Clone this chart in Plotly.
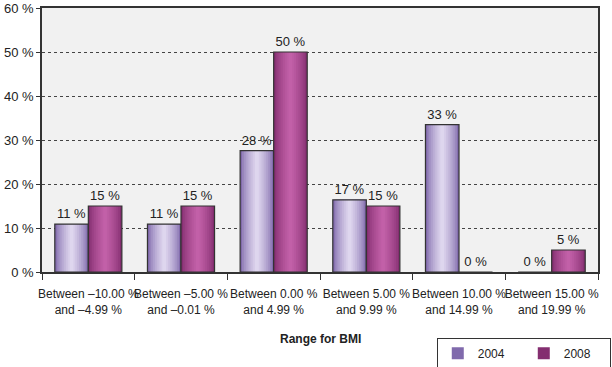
import plotly.graph_objects as go

categories = [
    "Between –10.00 %<br>and –4.99 %",
    "Between –5.00 %<br>and –0.01 %",
    "Between 0.00 %<br>and 4.99 %",
    "Between 5.00 %<br>and 9.99 %",
    "Between 10.00 %<br>and 14.99 %",
    "Between 15.00 %<br>and 19.99 %",
]
values_2004 = [10.9, 10.9, 27.6, 16.4, 33.5, 0]
values_2008 = [15, 15, 50, 15, 0, 5]
labels_2004 = ["11 %", "11 %", "28 %", "17 %", "33 %", "0 %"]
labels_2008 = ["15 %", "15 %", "50 %", "15 %", "0 %", "5 %"]
y_ticks = [0, 10, 20, 30, 40, 50, 60]
x_title = "Range for BMI"

series = [
    ("2004", values_2004, labels_2004, (128, 106, 172), (222, 214, 238), -1),
    ("2008", values_2008, labels_2008, (132, 46, 112), (194, 96, 168), 0),
]

BAR_W = 0.362
N_LAYERS = 9
FONT = "Liberation Sans, Arial, sans-serif"

fig = go.Figure()


def mix(c1, c2, t):
    return "rgb(%d,%d,%d)" % tuple(round(a + (b - a) * t) for a, b in zip(c1, c2))


for name, vals, labels, edge, mid, side in series:
    base_off = side * BAR_W
    for k in range(N_LAYERS):
        w = BAR_W * (1 - k / N_LAYERS)
        fig.add_trace(go.Bar(
            x=categories, y=vals, name=name,
            width=w, offset=base_off + (BAR_W - w) / 2,
            marker=dict(color=mix(edge, mid, (k / (N_LAYERS - 1)) ** 0.7),
                        line=dict(width=0)),
            showlegend=(k == 0), legendgroup=name, hoverinfo="skip",
        ))
    fig.add_trace(go.Bar(
        x=categories, y=vals, name=name,
        width=BAR_W, offset=base_off,
        marker=dict(color="rgba(0,0,0,0)", line=dict(color="#333333", width=1.2)),
        text=labels, textposition="outside", cliponaxis=False,
        textfont=dict(family=FONT, size=13, color="#222222"),
        showlegend=False, legendgroup=name,
    ))

fig.update_layout(
    width=612, height=367,
    margin=dict(l=42, r=14, t=8, b=95),
    barmode="overlay",
    paper_bgcolor="white",
    plot_bgcolor="#f1f1f1",
    font=dict(family=FONT, size=12, color="#222222"),
    legend=dict(
        orientation="h", xref="container", yref="container",
        x=0.998, xanchor="right", y=0.08, yanchor="top",
        bordercolor="#333333", borderwidth=1, bgcolor="white",
        font=dict(size=12), entrywidth=41, entrywidthmode="pixels",
        traceorder="normal", tracegroupgap=0,
    ),
    annotations=[dict(
        text=f"<b>{x_title}</b>", xref="paper", yref="paper",
        x=0.5, y=-0.253, xanchor="center", yanchor="middle",
        showarrow=False, font=dict(size=12, color="#222222"),
    )],
)
fig.update_xaxes(
    type="category", tickangle=0, tickson="boundaries",
    ticks="outside", ticklen=6, tickcolor="#333333",
    showline=True, linecolor="#333333", linewidth=1.5, mirror=True,
    tickfont=dict(size=12), ticklabelstandoff=10, automargin=False,
    showgrid=False,
)
fig.update_yaxes(
    range=[0, 60], tickvals=y_ticks, ticktext=[f"{v} %" for v in y_ticks],
    ticks="outside", ticklen=4, tickcolor="#333333",
    showline=True, linecolor="#333333", linewidth=1.5, mirror=True,
    showgrid=True, gridcolor="#444444", griddash="dot", gridwidth=1,
    tickfont=dict(size=13), zeroline=False, automargin=False,
    ticklabeloverflow="allow",
)

fig.write_html(
    "out.html",
    config={"displayModeBar": False},
    post_script="document.body.style.margin='0px';",
)
